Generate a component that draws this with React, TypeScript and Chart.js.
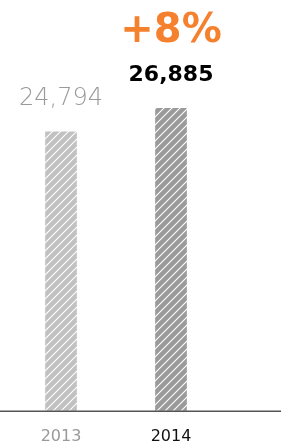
import React, { useEffect, useRef } from "react";
import { Chart, registerables } from "chart.js";

Chart.register(...registerables);

const categories = ["2013", "2014"];
const values = [24794, 26885];
const valueLabels = ["24,794", "26,885"];
const changeLabel = "+8%";
const barColors = ["#c1c1c1", "#9a9a9a"];
const tickColors = ["#999999", "#111111"];

function makePattern(ctx: CanvasRenderingContext2D, bg: string) {
  const size = 8;
  const c = document.createElement("canvas");
  c.width = size;
  c.height = size;
  const p = c.getContext("2d")!;
  p.fillStyle = bg;
  p.fillRect(0, 0, size, size);
  p.strokeStyle = "#ffffff";
  p.lineWidth = 1.1;
  p.beginPath();
  p.moveTo(-1, size + 1);
  p.lineTo(size + 1, -1);
  p.moveTo(-1 - size, size + 1);
  p.lineTo(1, -1);
  p.moveTo(size - 1, size + 1);
  p.lineTo(2 * size + 1, -1);
  p.stroke();
  return ctx.createPattern(c, "repeat")!;
}

export default function App() {
  const ref = useRef<HTMLCanvasElement>(null);
  useEffect(() => {
    document.body.style.margin = "0";
    const canvas = ref.current!;
    const ctx = canvas.getContext("2d")!;
    const patterns = barColors.map((c) => makePattern(ctx, c));

    const baseline = {
      id: "baseline",
      afterDatasetsDraw(chart: any) {
        const c = chart.ctx;
        const y = chart.scales.y.getPixelForValue(0);
        c.save();
        c.strokeStyle = "#555555";
        c.lineWidth = 1.5;
        c.beginPath();
        c.moveTo(0, y + 0.5);
        c.lineTo(chart.width, y + 0.5);
        c.stroke();
        c.restore();
      },
    };

    const labels = {
      id: "valueLabels",
      afterDatasetsDraw(chart: any) {
        const c = chart.ctx;
        const meta = chart.getDatasetMeta(0);
        c.save();
        c.textAlign = "center";
        c.textBaseline = "alphabetic";
        const b0 = meta.data[0];
        c.fillStyle = "#9a9a9a";
        c.font = "200 24px 'DejaVu Sans'";
        c.fillText(valueLabels[0], b0.x, b0.y - 27);
        const b1 = meta.data[1];
        c.fillStyle = "#000000";
        c.font = "bold 22px 'DejaVu Sans'";
        c.fillText(valueLabels[1], b1.x, b1.y - 27);
        c.fillStyle = "#f5812f";
        c.font = "bold 40px 'DejaVu Sans'";
        c.fillText(changeLabel, b1.x, b1.y - 66);
        c.restore();
      },
    };

    const chart = new Chart(canvas, {
      type: "bar",
      data: {
        labels: categories,
        datasets: [
          {
            data: values,
            backgroundColor: patterns,
            barThickness: 31,
            borderWidth: 0,
          },
        ],
      },
      options: {
        animation: false,
        responsive: false,
        layout: { padding: { left: 6, right: 55, top: 0, bottom: -15 } },
        plugins: { legend: { display: false }, tooltip: { enabled: false } },
        scales: {
          x: {
            grid: { display: false, drawTicks: false },
            border: { display: false },
            ticks: {
              color: tickColors,
              font: { family: "'DejaVu Sans'", size: 16 },
              padding: 16,
            },
          },
          y: {
            display: false,
            min: 0,
            max: 36500,
          },
        },
      },
      plugins: [baseline, labels],
    });
    return () => chart.destroy();
  }, []);
  return <canvas ref={ref} width={281} height={447} />;
}
